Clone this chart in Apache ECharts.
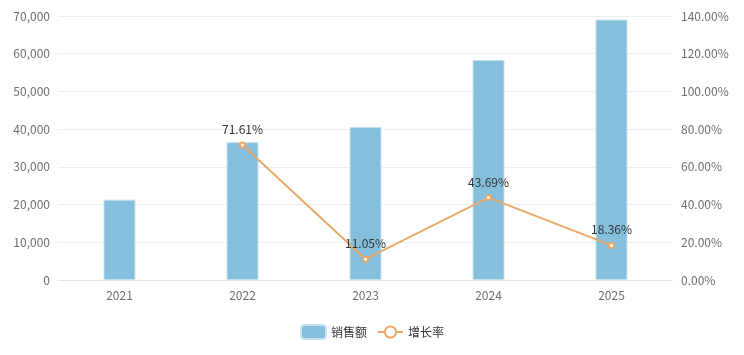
<!DOCTYPE html>
<html>
<head>
<meta charset="UTF-8">
<script src="https://cdn.jsdelivr.net/npm/echarts@6/dist/echarts.min.js"></script>
<style>
    html, body {margin: 0; padding: 0; background: #fff;}
    #chartDiv {width: 744px; height: 355px;}
</style>
</head>
<body>
<div id="chartDiv"></div>
<script type="text/javascript">
    // 年份
    var years = ['2021', '2022', '2023', '2024', '2025'];
    // 销售额
    var salesValues = [21300, 36550, 40590, 58330, 69040];
    // 增长率(%)，2021 无数据
    var growthValues = [null, 71.61, 11.05, 43.69, 18.36];

    var myChart = echarts.init(document.getElementById('chartDiv'));
    var axisText = {color: '#6e6e6e', fontSize: 12, fontFamily: 'Microsoft YaHei, Noto Sans CJK SC, sans-serif'};

    var option = {
        animation: false,
        textStyle: {fontFamily: 'Microsoft YaHei, Noto Sans CJK SC, sans-serif'},
        legend: {
            bottom: 10,
            left: 'center',
            itemWidth: 25,
            itemHeight: 14,
            itemGap: 10,
            textStyle: {color: '#333', fontSize: 12},
            data: ['销售额', '增长率']
        },
        grid: {
            left: 58,
            right: 71,
            top: 16,
            bottom: 75
        },
        xAxis: [{
            type: 'category',
            data: years,
            axisTick: {show: false},
            axisLine: {lineStyle: {color: '#e6e6e6'}},
            axisLabel: {color: '#6e6e6e', fontSize: 12, margin: 9}
        }],
        yAxis: [{
            type: 'value',
            min: 0,
            max: 70000,
            interval: 10000,
            axisLine: {show: false},
            axisTick: {show: false},
            splitLine: {lineStyle: {color: '#eeeeee'}},
            axisLabel: {
                color: axisText.color,
                fontSize: 12,
                margin: 8,
                formatter: function (v) {
                    return v.toString().replace(/\B(?=(\d{3})+(?!\d))/g, ',');
                }
            }
        }, {
            type: 'value',
            min: 0,
            max: 140,
            interval: 20,
            axisLine: {show: false},
            axisTick: {show: false},
            splitLine: {lineStyle: {color: '#eeeeee'}},
            axisLabel: {
                color: axisText.color,
                fontSize: 12,
                margin: 8,
                formatter: function (v) {
                    return v.toFixed(2) + '%';
                }
            }
        }],
        series: [{
            name: '销售额',
            type: 'bar',
            data: salesValues,
            barWidth: 32,
            itemStyle: {
                color: '#86bfdc',
                borderColor: '#c6e1ef',
                borderWidth: 1
            }
        }, {
            name: '增长率',
            type: 'line',
            yAxisIndex: 1,
            data: growthValues,
            symbol: 'emptyCircle',
            symbolSize: 5,
            connectNulls: false,
            lineStyle: {color: '#e9a968', width: 2},
            itemStyle: {color: '#e9a968', borderWidth: 1.5},
            label: {
                show: true,
                position: 'top',
                distance: 6,
                color: '#333',
                fontSize: 12,
                formatter: function (p) {
                    return p.value == null ? '' : p.value.toFixed(2) + '%';
                }
            }
        }]
    };

    myChart.setOption(option);
</script>
</body>
</html>
